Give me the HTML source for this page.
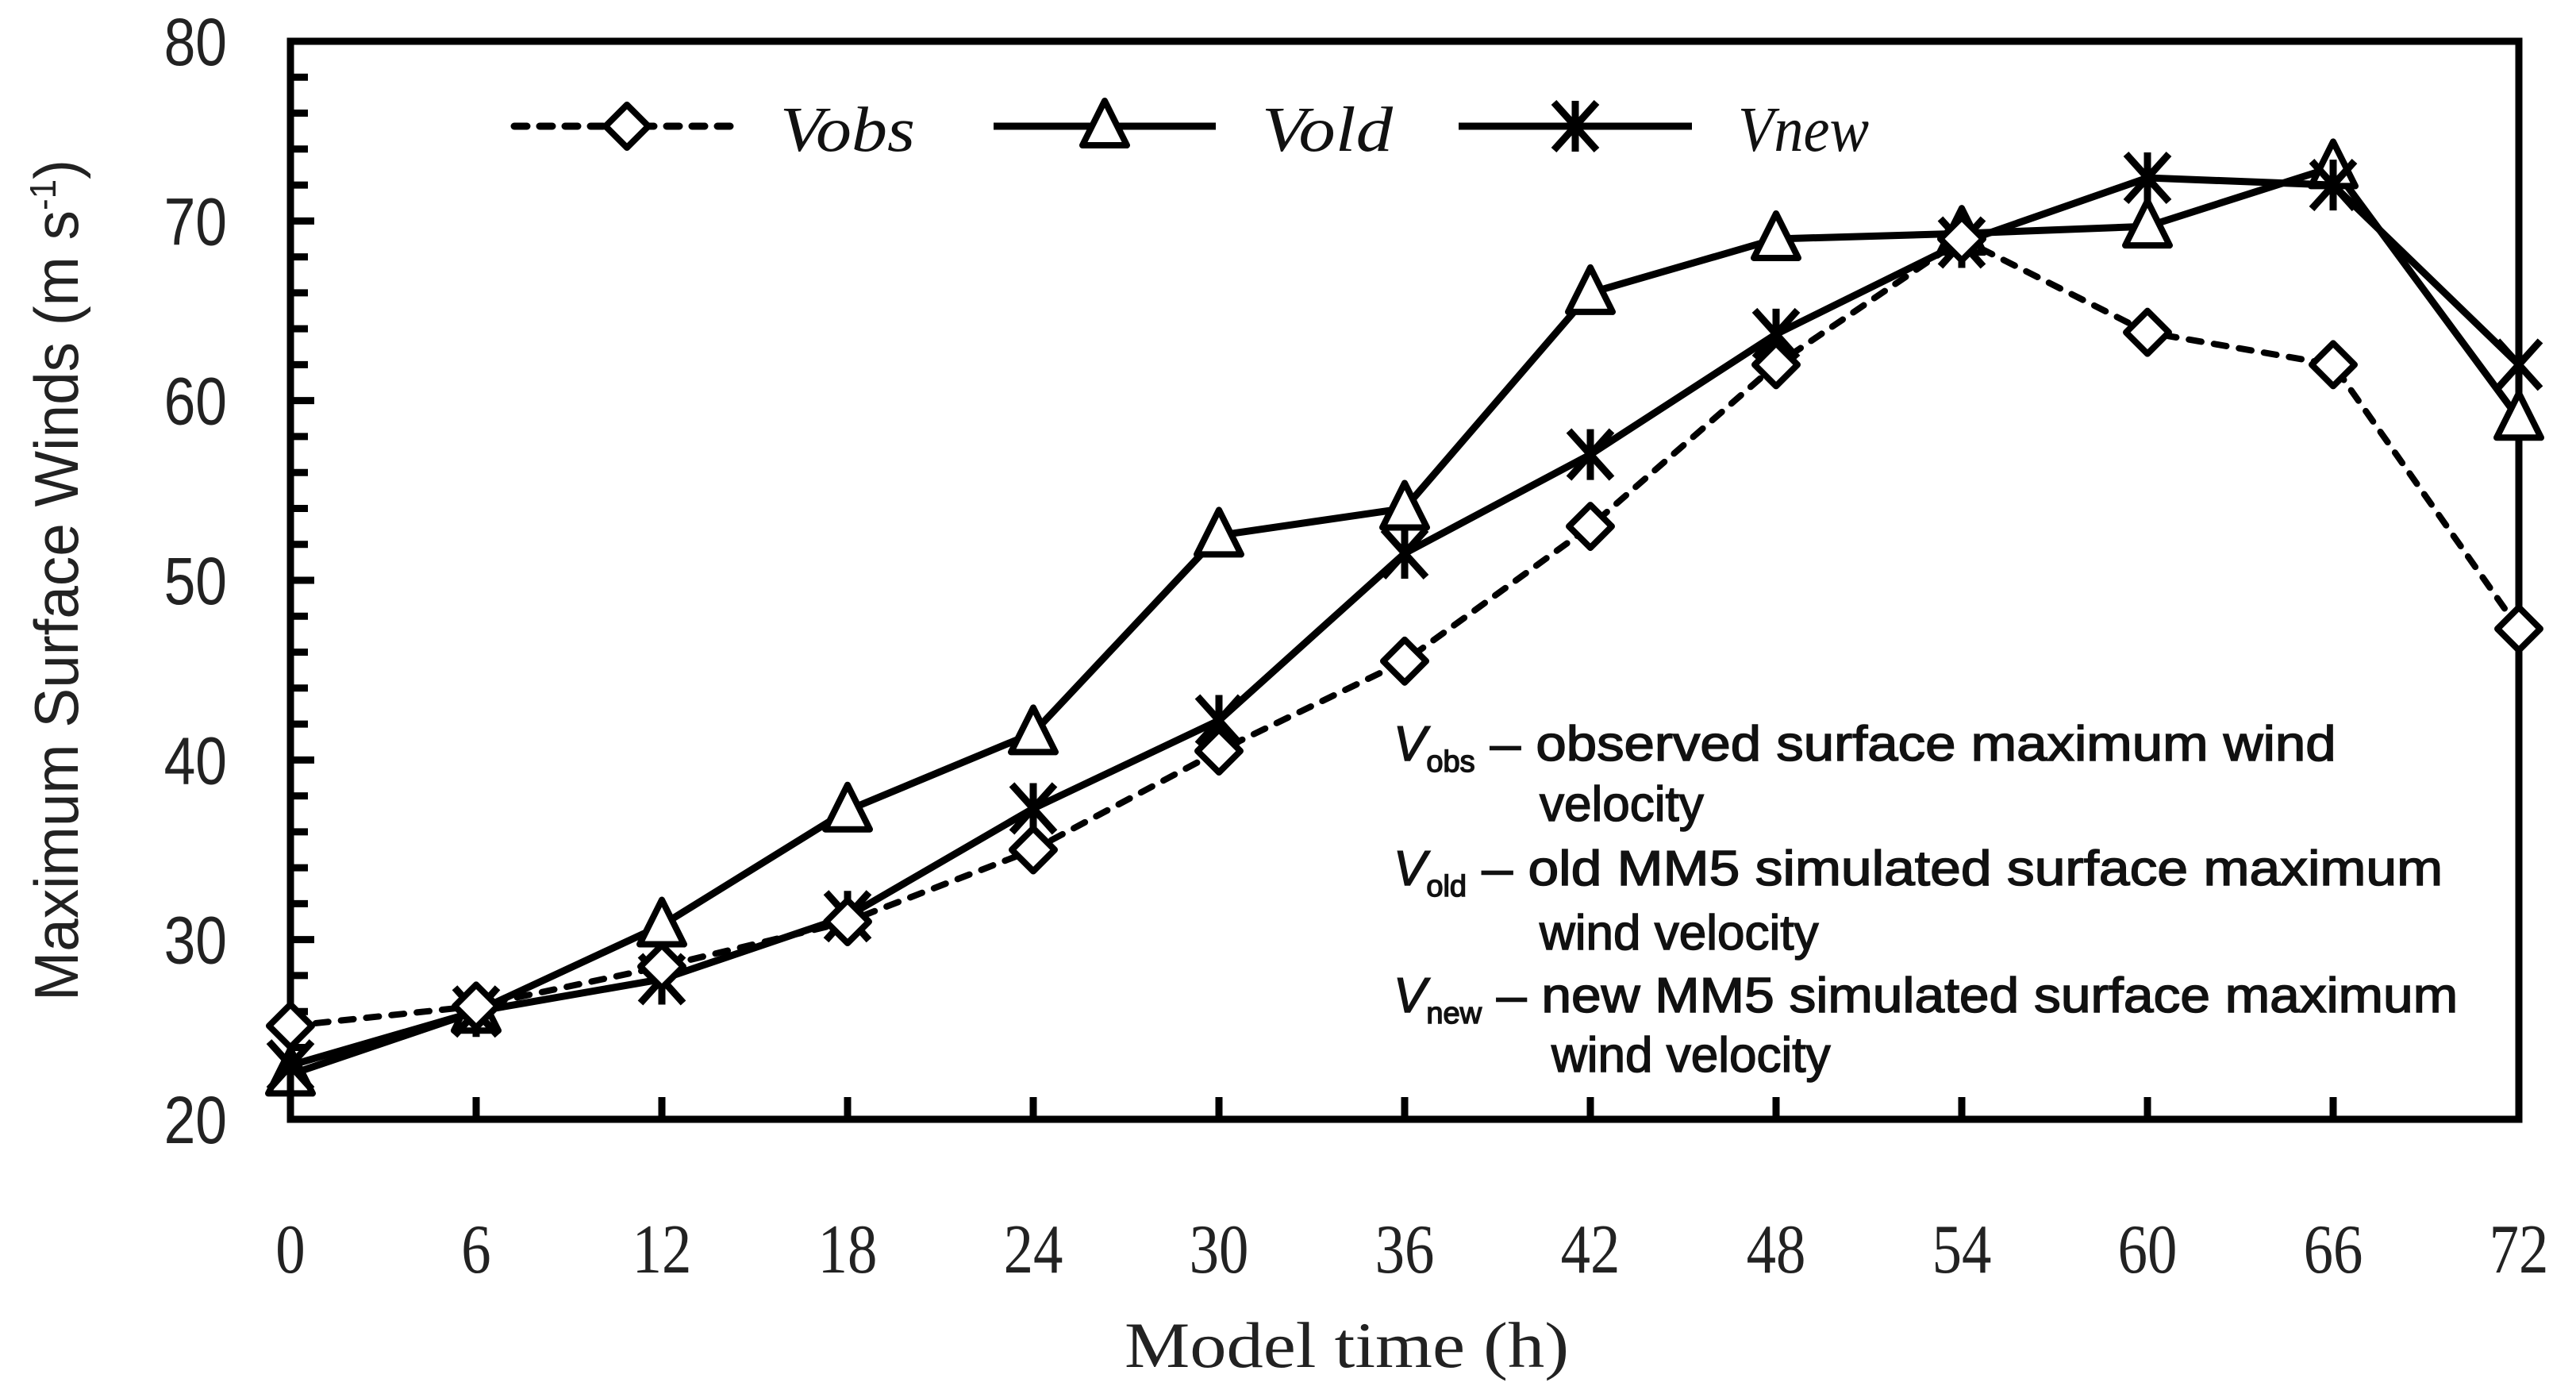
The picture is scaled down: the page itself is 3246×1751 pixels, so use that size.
<!DOCTYPE html>
<html><head><meta charset="utf-8"><style>
html,body{margin:0;padding:0;background:#fff;}
svg{display:block;}
</style></head><body>
<svg id="chart" width="3246" height="1751" viewBox="0 0 3246 1751" xmlns="http://www.w3.org/2000/svg">
<g id="axes"></g>
<g id="series"></g>
<g id="legend" font-family="'Liberation Serif', serif" font-style="italic" font-size="80" fill="#111">
  <text x="983" y="190" textLength="170" lengthAdjust="spacingAndGlyphs">Vobs</text>
  <text x="1590" y="190" textLength="165" lengthAdjust="spacingAndGlyphs">Vold</text>
  <text x="2190" y="190" textLength="165" lengthAdjust="spacingAndGlyphs">Vnew</text>
</g>
<g id="note" font-family="'Liberation Sans', sans-serif" font-size="62" fill="#111" stroke="#111" stroke-width="1.5">
  <text x="1756" y="958"><tspan font-style="italic">V</tspan><tspan font-size="38" dy="14">obs</tspan><tspan dy="-14" textLength="1085" lengthAdjust="spacingAndGlyphs"> – observed surface maximum wind</tspan></text>
  <text x="1940" y="1034">velocity</text>
  <text x="1756" y="1115"><tspan font-style="italic">V</tspan><tspan font-size="38" dy="14">old</tspan><tspan dy="-14" textLength="1230" lengthAdjust="spacingAndGlyphs"> – old MM5 simulated surface maximum</tspan></text>
  <text x="1940" y="1196">wind velocity</text>
  <text x="1756" y="1275"><tspan font-style="italic">V</tspan><tspan font-size="38" dy="14">new</tspan><tspan dy="-14" textLength="1230" lengthAdjust="spacingAndGlyphs"> – new MM5 simulated surface maximum</tspan></text>
  <text x="1955" y="1350">wind velocity</text>
</g>
<text transform="translate(98,731) rotate(-90)" text-anchor="middle" font-family="'Liberation Sans', sans-serif" font-size="78" fill="#222" textLength="1060" lengthAdjust="spacingAndGlyphs">Maximum Surface Winds (m s<tspan font-size="46" dy="-28">-1</tspan><tspan dy="28">)</tspan></text>
<text x="1697" y="1722" text-anchor="middle" font-family="'Liberation Serif', serif" font-size="82" fill="#222" textLength="560" lengthAdjust="spacingAndGlyphs">Model time (h)</text>
</svg>
<script>
const hours = [0,6,12,18,24,30,36,42,48,54,60,66,72];
const vobs = [25.2,26.3,28.5,31,35,40.5,45.5,53,62,69,63.8,62,47.3];
const vold = [22.5,26,30.8,37.2,41.5,52.5,54,66,69,69.3,69.7,73,59];
const vnew = [23,26,27.8,31.3,37.3,42.2,51.5,57,63.7,68.8,72.4,72,62];
const yTicks = [20,30,40,50,60,70,80];
const xTicks = [0,6,12,18,24,30,36,42,48,54,60,66,72];

const L=366,R=3174,T=52,B=1410;
const xS=v=>L+(v-0)/72*(R-L);
const yS=v=>B-(v-20)/60*(B-T);
const NS='http://www.w3.org/2000/svg';
function mk(tag,attrs,parent){const e=document.createElementNS(NS,tag);for(const k in attrs)e.setAttribute(k,attrs[k]);parent.appendChild(e);return e;}
const axes=document.getElementById('axes');
const series=document.getElementById('series');
const legend=document.getElementById('legend');

const frame=mk('rect',{x:L,y:T,width:R-L,height:B-T,fill:'none',stroke:'#000','stroke-width':9},axes);


for(let v=22;v<80;v+=2){
  const t=mk('line',{x1:L,x2:L+(v%10===0?30:22),y1:yS(v),y2:yS(v),stroke:'#000','stroke-width':9},axes);
  
  
}
yTicks.forEach(v=>{
  const t=mk('text',{x:0,y:0,'text-anchor':'end','font-family':"'Liberation Sans', sans-serif",'font-size':84,fill:'#222',transform:`translate(286,${yS(v)+30}) scale(0.85,1)`},axes);
  t.textContent=v;
  
  
});
xTicks.forEach(v=>{
  const t=mk('line',{x1:xS(v),x2:xS(v),y1:B,y2:B-28,stroke:'#000','stroke-width':9},axes);
  
  
  const l=mk('text',{x:0,y:0,'text-anchor':'middle','font-family':"'Liberation Serif', serif",'font-size':88,fill:'#222',transform:`translate(${xS(v)},1603) scale(0.85,1)`},axes);
  l.textContent=v;
  
  
});

function marker(type,cx,cy,g){
  if(type==='diamond'){
    const m=mk('polygon',{points:`${cx},${cy-27} ${cx+27},${cy} ${cx},${cy+27} ${cx-27},${cy}`,fill:'#fff',stroke:'#000','stroke-width':8,'stroke-linejoin':'round'},g);
    
    
  }else if(type==='triangle'){
    const m=mk('polygon',{points:`${cx},${cy-32} ${cx+28},${cy+24} ${cx-28},${cy+24}`,fill:'#fff',stroke:'#000','stroke-width':8,'stroke-linejoin':'round'},g);
    
    
  }else{
    const m=mk('path',{d:`M${cx-27},${cy-30}L${cx+27},${cy+30}M${cx+27},${cy-30}L${cx-27},${cy+30}M${cx},${cy-32}L${cx},${cy+32}`,fill:'none',stroke:'#000','stroke-width':9},g);
    
    
  }
}
function drawSeries(name,vals,type,dash){
  const g=mk('g',{},series);
  
  
  const pts=vals.map((v,i)=>xS(hours[i])+','+yS(v)).join(' ');
  const pl=mk('polyline',{points:pts,fill:'none',stroke:'#000','stroke-width':dash?8:9,'stroke-dasharray':dash||'none','stroke-linecap':dash?'round':'butt'},g);
  
  
  vals.forEach((v,i)=>marker(type,xS(hours[i]),yS(v),g));
}
drawSeries('series-vold',vold,'triangle');
drawSeries('series-vnew',vnew,'asterisk');
drawSeries('series-vobs',vobs,'diamond','16 16');

[[648,932,'diamond','16 16'],[1252,1532,'triangle',null],[1838,2132,'asterisk',null]].forEach(d=>{
  const g=mk('g',{},legend);
  
  
  const l=mk('line',{x1:d[0],x2:d[1],y1:159,y2:159,stroke:'#000','stroke-width':9,'stroke-dasharray':d[3]||'none','stroke-linecap':d[3]?'round':'butt'},g);
  
  
  marker(d[2],(d[0]+d[1])/2,159,g);
});
</script>
</body></html>
